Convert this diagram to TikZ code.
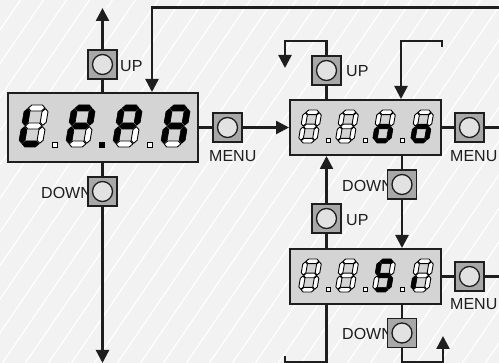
\documentclass[tikz,border=0pt]{standalone}
\usepackage{fontspec}
\setmainfont{Liberation Sans}
\usetikzlibrary{arrows.meta}
\definecolor{bgc}{HTML}{F2F2F2}
\definecolor{dispfill}{HTML}{D4D4D4}
\definecolor{btnfill}{HTML}{A8A8A8}
\definecolor{knob}{HTML}{E2E2E2}
\definecolor{ink}{HTML}{1E1E1E}
\newcommand\dW{24}\newcommand\dH{42}\newcommand\dT{6}\newcommand\dG{0.7}\newcommand\dS{0.17}
\newcommand\hsegp[2]{\path[seg=#1] ({\dT/2+\dG},{#2}) -- ({\dT+\dG},{#2+\dT/2}) -- ({\dW-\dT-\dG},{#2+\dT/2}) -- ({\dW-\dT/2-\dG},{#2}) -- ({\dW-\dT-\dG},{#2-\dT/2}) -- ({\dT+\dG},{#2-\dT/2}) -- cycle;}
\newcommand\vsegp[4]{\path[seg=#1] ({#2},{#3+\dG}) -- ({#2+\dT/2},{#3+\dG+\dT/2}) -- ({#2+\dT/2},{#4-\dG-\dT/2}) -- ({#2},{#4-\dG}) -- ({#2-\dT/2},{#4-\dG-\dT/2}) -- ({#2-\dT/2},{#3+\dG+\dT/2}) -- cycle;}
\newcommand\sevenseg[3]{%
  \begin{scope}[shift={(#1,#2)}, x=1pt, y=1pt, xslant=\dS]
    \foreach \s [count=\i] in {#3} {%
      \ifcase\i\or
        \hsegp{\s}{\dH-\dT/2}\or
        \vsegp{\s}{\dW-\dT/2}{\dH/2}{\dH-\dT/2}\or
        \vsegp{\s}{\dW-\dT/2}{\dT/2}{\dH/2}\or
        \hsegp{\s}{\dT/2}\or
        \vsegp{\s}{\dT/2}{\dT/2}{\dH/2}\or
        \vsegp{\s}{\dT/2}{\dH/2}{\dH-\dT/2}\or
        \hsegp{\s}{\dH/2}\fi}
  \end{scope}}
\tikzset{
  litseg/.style={fill=black, draw=black, line width=0.6pt, line join=round},
  offseg/.style={fill=white, draw=black, line width=0.9pt, line join=round},
  seg/.code={\ifnum#1=1 \tikzset{litseg}\else\tikzset{offseg}\fi},
  dispbox/.style={draw=ink, line width=2pt, fill=dispfill, inner sep=0pt},
  button/.style={draw=ink, line width=1.3pt, fill=btnfill, minimum size=29pt, inner sep=0pt,
    path picture={\draw[fill=knob, line width=1.3pt, draw=ink] (path picture bounding box.center) circle (10pt);}},
  lbl/.style={font=\fontsize{16}{17}\selectfont, inner sep=0pt, anchor=west, text=ink},
  conn/.style={line width=2.4pt, draw=ink},
  arr/.style={conn, -{Triangle[length=13pt,width=13pt]}},
  dotsq/.style={draw=black, line width=0.7pt}
}
\begin{document}
\begin{tikzpicture}[x=1pt,y=-1pt]
\useasboundingbox (0,0) rectangle (499,363);
\fill[bgc] (0,0) rectangle (499,363);
\begin{scope}
  \clip (0,0) rectangle (499,363);
  \foreach \k in {-11,...,22}
    \draw[white, line width=1.2pt] ({2.4+23*\k},363) -- ({250.4+23*\k},0);
\end{scope}

% labels (under buttons)
\node[lbl] (lup1) at (120,66) {UP};
\node[lbl] (ldown1) at (41,193) {DOWN};
\node[lbl] (lmenu1) at (209,156) {MENU};
\node[lbl] (lup2) at (346,71) {UP};
\node[lbl] (lmenu2) at (450,156.5) {MENU};
\node[lbl] (ldown2) at (342,186) {DOWN};
\node[lbl] (lup3) at (346,220) {UP};
\node[lbl] (lmenu3) at (450,304) {MENU};
\node[lbl] (ldown3) at (342,333.5) {DOWN};

% displays
\node[dispbox, minimum width=190pt, minimum height=69pt] (disp1) at (103,127.5) {};
\node[dispbox, minimum width=151pt, minimum height=55pt] (disp2) at (365.5,127.5) {};
\node[dispbox, minimum width=151pt, minimum height=55pt] (disp3) at (365.5,276.5) {};

% buttons
\node[button] (up1) at (102.5,64.5) {};
\node[button] (down1) at (102.5,191.5) {};
\node[button] (menu1) at (227.5,127.5) {};
\node[button] (up2) at (326.5,70.5) {};
\node[button] (menu2) at (469.5,127.5) {};
\node[button] (down2) at (402,184.5) {};
\node[button] (up3) at (326.5,218.5) {};
\node[button] (menu3) at (469.5,276.5) {};
\node[button] (down3) at (402,333) {};

% free ends
\coordinate (u1top) at (102.5,8);
\coordinate (d1bot) at (102.5,363);
\coordinate (topR) at (499,7.5);
\coordinate (topL) at (152,7.5);
\coordinate (u2c) at (285,41);
\coordinate (u2e) at (285,68);
\coordinate (r2s) at (442,47);
\coordinate (r2c) at (401,41);
\coordinate (m2r) at (499,127.5);
\coordinate (m3r) at (499,276.5);
\coordinate (d3c) at (443,362);
\coordinate (d3e) at (443,336);
\coordinate (b3c) at (285,362);
\coordinate (b3e) at (285,356);

% connectors
\draw[arr] (up1.north) -- (u1top);
\draw[conn] (disp1.north -| up1) -- (up1.south);
\draw[conn] (disp1.south -| down1) -- (down1.north);
\draw[arr] (down1.south) -- (d1bot);
\draw[conn] (disp1.east) -- (menu1.west);
\draw[arr] (menu1.east) -- (disp2.west);
\draw[arr] (topR) -- (topL) -- (topL |- disp1.north);
\draw[arr] (up2.north) |- (u2c) -- (u2e);
\draw[conn] (disp2.north -| up2) -- (up2.south);
\draw[arr] (r2s) |- (r2c) -- (r2c |- disp2.north);
\draw[conn] (disp2.east) -- (menu2.west);
\draw[conn] (menu2.east) -- (m2r);
\draw[conn] (disp2.south -| down2) -- (down2.north);
\draw[arr] (down2.south) -- (down2.south |- disp3.north);
\draw[arr] (up3.north) -- (up3.north |- disp2.south);
\draw[conn] (disp3.north -| up3) -- (up3.south);
\draw[conn] (disp3.east) -- (menu3.west);
\draw[conn] (menu3.east) -- (m3r);
\draw[conn] (disp3.south -| down3) -- (down3.north);
\draw[arr] (down3.south) |- (d3c) -- (d3e);
\draw[conn] (disp3.south -| up3) |- (b3c) -- (b3e);

% digits display 1
\sevenseg{18}{147}{0,0,0,1,1,1,0}
\sevenseg{65}{147}{1,1,0,0,1,1,1}
\sevenseg{112}{147}{1,1,0,0,1,1,1}
\sevenseg{160}{147}{1,1,1,0,1,1,1}
\draw[dotsq, fill=white] (52,142) rectangle (57,147);
\draw[dotsq, fill=black] (99,142) rectangle (104,147);
\draw[dotsq, fill=white] (147,142) rectangle (152,147);

% digits display 2 and 3
\renewcommand\dW{18.5}\renewcommand\dH{33}\renewcommand\dT{4.6}\renewcommand\dG{0.5}
\sevenseg{298}{143}{0,0,0,0,0,0,0}
\sevenseg{335}{143}{0,0,0,0,0,0,0}
\sevenseg{372}{143}{0,0,1,1,1,0,1}
\sevenseg{410}{143}{0,0,1,1,1,0,1}
\draw[dotsq, fill=white] (326,138) rectangle (330,142);
\draw[dotsq, fill=white] (363,138) rectangle (367,142);
\draw[dotsq, fill=white] (400,138) rectangle (404,142);
\sevenseg{298}{292}{0,0,0,0,0,0,0}
\sevenseg{335}{292}{0,0,0,0,0,0,0}
\sevenseg{372}{292}{1,0,1,1,0,1,1}
\sevenseg{410}{292}{0,0,0,0,1,0,0}
\draw[dotsq, fill=white] (326,287) rectangle (330,291);
\draw[dotsq, fill=white] (363,287) rectangle (367,291);
\draw[dotsq, fill=white] (400,287) rectangle (404,291);
\end{tikzpicture}
\end{document}
